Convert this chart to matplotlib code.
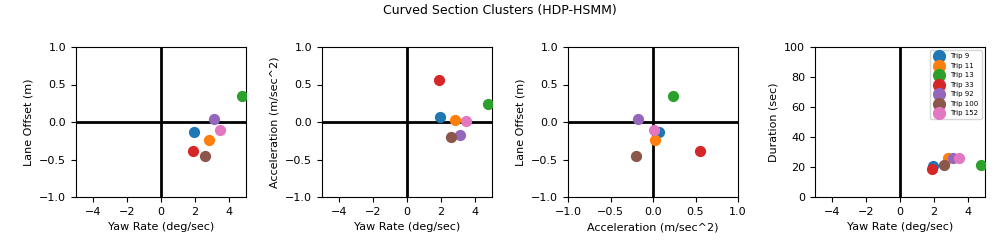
import matplotlib
matplotlib.use('Agg')
import matplotlib.pyplot as plt

trips = ['Trip 9', 'Trip 11', 'Trip 13', 'Trip 33', 'Trip 92', 'Trip 100', 'Trip 152']
colors = ['#1f77b4', '#ff7f0e', '#2ca02c', '#d62728', '#9467bd', '#8c564b', '#e377c2']

yaw_rate = [1.96, 2.84, 4.78, 1.86, 3.14, 2.61, 3.49]
lane_offset = [-0.137, -0.244, 0.347, -0.387, 0.036, -0.458, -0.11]
accel = [0.065, 0.025, 0.24, 0.556, -0.172, -0.205, 0.012]
duration = [20.9, 25.8, 21.1, 18.9, 25.8, 21.3, 25.8]

fig = plt.figure(figsize=(10, 2.5), dpi=100)
fig.suptitle('Curved Section Clusters (HDP-HSMM)', fontsize=9, y=0.985)

lefts = [0.076, 0.322, 0.568, 0.815]
axs = [fig.add_axes([l, 0.212, 0.17, 0.6]) for l in lefts]

panels = [
    (yaw_rate, lane_offset, 'Yaw Rate (deg/sec)', 'Lane Offset (m)'),
    (yaw_rate, accel, 'Yaw Rate (deg/sec)', 'Acceleration (m/sec^2)'),
    (accel, lane_offset, 'Acceleration (m/sec^2)', 'Lane Offset (m)'),
    (yaw_rate, duration, 'Yaw Rate (deg/sec)', 'Duration (sec)'),
]

for k, (ax, (xs, ys, xl, yl)) in enumerate(zip(axs, panels)):
    if k < 3:
        ax.axhline(0, color='black', lw=2)
    ax.axvline(0, color='black', lw=2)
    for i in range(len(trips)):
        ax.scatter(xs[i], ys[i], color=colors[i], s=50, label=trips[i], zorder=3)
    ax.set_xlabel(xl, fontsize=8)
    ax.set_ylabel(yl, fontsize=8)
    ax.tick_params(labelsize=8)

for ax in [axs[0], axs[1]]:
    ax.set_xlim(-5, 5)
    ax.set_ylim(-1, 1)
    ax.set_xticks([-4, -2, 0, 2, 4])
    ax.set_yticks([-1.0, -0.5, 0.0, 0.5, 1.0])

axs[2].set_xlim(-1, 1)
axs[2].set_ylim(-1, 1)
axs[2].set_xticks([-1.0, -0.5, 0.0, 0.5, 1.0])
axs[2].set_yticks([-1.0, -0.5, 0.0, 0.5, 1.0])

axs[3].set_xlim(-5, 5)
axs[3].set_ylim(0, 100)
axs[3].set_xticks([-4, -2, 0, 2, 4])
axs[3].set_yticks([0, 20, 40, 60, 80, 100])
axs[3].legend(loc='upper right', fontsize=5, markerscale=1.2, handletextpad=0.6,
              labelspacing=0.5, borderpad=0.4)

fig.savefig('out.png', dpi=100)
